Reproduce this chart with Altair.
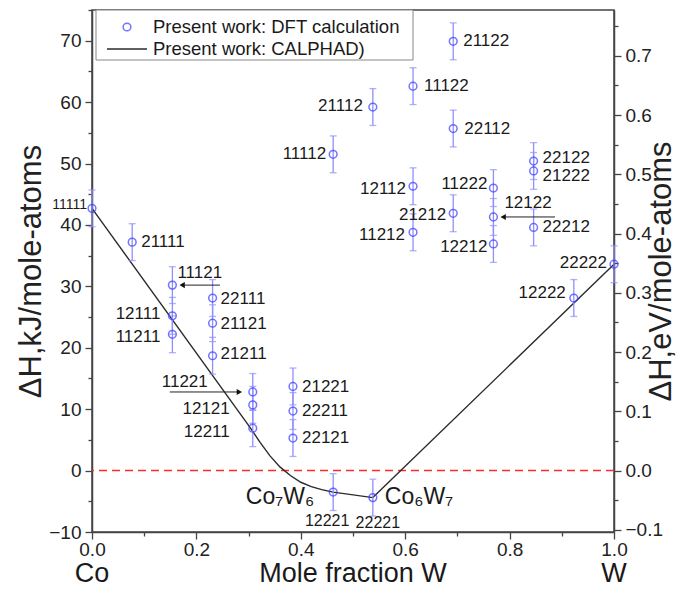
import altair as alt
import pandas as pd

# ---------------- data ----------------
config_label = ["11111", "21111", "11121", "12111", "11211", "22111", "21121", "21211",
                "11221", "12121", "12211", "21221", "22211", "22121", "12221", "22221",
                "11112", "21112", "11122", "21122", "22112", "12112", "21212", "11212",
                "11222", "12122", "12212", "22122", "21222", "22212", "12222", "22222"]
mole_fraction_w = [0.000, 0.077, 0.154, 0.154, 0.154, 0.231, 0.231, 0.231,
                   0.308, 0.308, 0.308, 0.385, 0.385, 0.385, 0.462, 0.538,
                   0.462, 0.538, 0.615, 0.692, 0.692, 0.615, 0.692, 0.615,
                   0.769, 0.769, 0.769, 0.846, 0.846, 0.846, 0.923, 1.000]
dh_dft = [42.7, 37.2, 30.2, 25.2, 22.2, 28.1, 24.0, 18.7,
          12.8, 10.7, 6.9, 13.7, 9.7, 5.3, -3.5, -4.4,
          51.5, 59.2, 62.6, 69.9, 55.7, 46.3, 41.9, 38.8,
          46.0, 41.3, 36.9, 50.4, 48.8, 39.6, 28.1, 33.6]
dh_err = [3.0, 3.0, 3.0, 3.0, 3.0, 3.0, 3.0, 3.0,
          3.0, 3.0, 3.0, 3.0, 3.0, 3.0, 3.0, 3.0,
          3.0, 3.0, 3.0, 3.0, 3.0, 3.0, 3.0, 3.0,
          3.0, 3.0, 3.0, 3.0, 3.0, 3.0, 3.0, 3.0]

calphad_x = [0.000, 0.303, 0.322, 0.341, 0.360, 0.380, 0.400, 0.420, 0.440, 0.462, 0.538, 1.000]
calphad_dh = [42.7, 7.0, 4.6, 2.4, 0.6, -0.8, -1.9, -2.6, -3.1, -3.5, -4.4, 33.6]

# arrows (tail -> head) pointing at three data points
arrow_tail_x = [0.245, 0.149, 0.887]
arrow_head_x = [0.165, 0.290, 0.780]
arrow_dh = [30.2, 12.8, 41.3]

phase_names = ["Co\u2087W\u2086", "Co\u2086W\u2087"]
phase_x = [0.462, 0.538]
phase_dh = [-3.5, -4.4]

x_ticks = [0.0, 0.1, 0.2, 0.3, 0.4, 0.5, 0.6, 0.7, 0.8, 0.9, 1.0]
y_ticks = [-10, -5, 0, 5, 10, 15, 20, 25, 30, 35, 40, 45, 50, 55, 60, 65, 70, 75]
ev_ticks = [-0.1, -0.05, 0.0, 0.05, 0.1, 0.15, 0.2, 0.25, 0.3, 0.35, 0.4, 0.45,
            0.5, 0.55, 0.6, 0.65, 0.7, 0.75]
KJ_PER_EV = 96.485

# ---------------- label placement (style) ----------------
# align, dx(px), dy(px), font size
LS = 17
label_place = {
    "11111": ("right", -5, -3, 14), "21111": ("left", 9, 0, LS),
    "11121": ("left", 5, -12, LS), "12111": ("right", -12, -2, LS),
    "11211": ("right", -12, 3, LS), "22111": ("left", 8, 1, LS),
    "21121": ("left", 8, 1, LS), "21211": ("left", 8, -2, LS),
    "11221": ("right", -45, -10, LS), "12121": ("right", -23, 4, LS),
    "12211": ("right", -23, 4, LS), "21221": ("left", 9, 1, LS),
    "22211": ("left", 9, 0, LS), "22121": ("left", 9, 0, LS),
    "12221": ("center", -6, 29, 16), "22221": ("center", 5, 25, 16),
    "11112": ("right", -7, 0, LS), "21112": ("right", -10, -1, LS),
    "11122": ("left", 11, 0, LS), "21122": ("left", 10, 0, LS),
    "22112": ("left", 11, 0, LS), "12112": ("right", -7, 3, LS),
    "21212": ("right", -7, 2, LS), "11212": ("right", -8, 3, LS),
    "11222": ("right", -6, -4, LS), "12122": ("left", 11, -14, LS),
    "12212": ("right", -6, 3, LS), "22122": ("left", 9, -3, LS),
    "21222": ("left", 9, 5, LS), "22212": ("left", 9, 0, LS),
    "12222": ("right", -8, -5, LS), "22222": ("right", -7, -1, LS),
}
phase_place = [("right", -19, 5), ("left", 12, -1)]

W, H = 522, 522
XD = [0, 1]
YD = [-10, 75]
PX_X = (XD[1] - XD[0]) / W
PX_Y = (YD[1] - YD[0]) / H
FONT = "Liberation Sans"
BLUE = "#3a3aff"
LIGHT_BLUE = "#8f8fff"
AX = "#444444"
TICK_FS = 19
TITLE_FS = 31

df = pd.DataFrame({"label": config_label, "x": mole_fraction_w, "dh": dh_dft, "err": dh_err})
df["lo"] = df["dh"] - df["err"]
df["hi"] = df["dh"] + df["err"]
df["align"] = [label_place[l][0] for l in df["label"]]
df["size"] = [label_place[l][3] for l in df["label"]]
df["lx"] = [x + label_place[l][1] * PX_X for x, l in zip(df["x"], df["label"])]
df["ly"] = [y - label_place[l][2] * PX_Y for y, l in zip(df["dh"], df["label"])]

calphad = pd.DataFrame({"x": calphad_x, "dh": calphad_dh})

adir = [1 if h > t else -1 for t, h in zip(arrow_tail_x, arrow_head_x)]
arrows = pd.DataFrame({
    "x": arrow_tail_x,
    "x2": [h - d * 4 * PX_X for h, d in zip(arrow_head_x, adir)],
    "dh": arrow_dh,
    "shape": ["triangle-right" if d > 0 else "triangle-left" for d in adir],
})

phases = pd.DataFrame({
    "name": phase_names,
    "x": [x + p[1] * PX_X for x, p in zip(phase_x, phase_place)],
    "dh": [y - p[2] * PX_Y for y, p in zip(phase_dh, phase_place)],
    "align": [p[0] for p in phase_place],
})

xscale = alt.Scale(domain=XD, nice=False, zero=False)
yscale = alt.Scale(domain=YD, nice=False, zero=False)

xaxis = alt.Axis(
    values=x_ticks, title=None, grid=False,
    labelExpr="round(datum.value*10) % 2 === 0 ? format(datum.value, '.1f') : ''",
    tickSize={"condition": {"test": "round(datum.value*10) % 2 === 0", "value": 7}, "value": 4},
    labelFontSize=TICK_FS, labelFont=FONT, labelColor="#222", labelPadding=1,
    domainColor=AX, domainWidth=1.5, tickColor=AX, tickWidth=1.3, labelFlush=False,
)
yaxis = alt.Axis(
    values=y_ticks, title="\u0394H,kJ/mole-atoms", grid=False,
    labelExpr="datum.value % 10 === 0 ? datum.label : ''",
    tickSize={"condition": {"test": "datum.value % 10 === 0", "value": 7}, "value": 4},
    labelFontSize=TICK_FS, labelFont=FONT, labelColor="#222", labelPadding=4,
    domainColor=AX, domainWidth=1.5, tickColor=AX, tickWidth=1.3, labelFlush=False,
    titleFont=FONT, titleFontSize=TITLE_FS, titleFontWeight="normal", titleColor="#222",
    titleAngle=270, titleX=-61, titleY=261, titleAlign="center", titleBaseline="middle",
)


def X(field):
    return alt.X(field, type="quantitative", scale=xscale, axis=xaxis)


def Y(field):
    return alt.Y(field, type="quantitative", scale=yscale, axis=yaxis)


one = pd.DataFrame({"a": [0]})

zero_line = alt.Chart(pd.DataFrame({"dh": [0.0]})).mark_rule(
    color="#ff2a2a", strokeDash=[8, 5], strokeWidth=1.5
).encode(y=Y("dh"))

line = alt.Chart(calphad).mark_line(color="#2b2b2b", strokeWidth=1.4).encode(
    x=X("x"), y=Y("dh"), order="x:Q"
)

ebar = alt.Chart(df).mark_rule(color=LIGHT_BLUE, strokeWidth=1.3).encode(
    x=X("x"), y=Y("lo"), y2="hi"
)
cap_lo = alt.Chart(df).mark_tick(color=LIGHT_BLUE, orient="horizontal", size=7, thickness=1.3).encode(
    x=X("x"), y=Y("lo")
)
cap_hi = alt.Chart(df).mark_tick(color=LIGHT_BLUE, orient="horizontal", size=7, thickness=1.3).encode(
    x=X("x"), y=Y("hi")
)
pts = alt.Chart(df).mark_point(shape="circle", filled=False, size=60, color=BLUE, strokeWidth=1.5).encode(
    x=X("x"), y=Y("dh")
)

label_layers = []
for al in ["left", "right", "center"]:
    for sz in sorted(set(df["size"])):
        sub = df[(df["align"] == al) & (df["size"] == sz)]
        if len(sub) == 0:
            continue
        label_layers.append(
            alt.Chart(sub).mark_text(align=al, baseline="middle", font=FONT, fontSize=sz, color="#1a1a1a").encode(
                x=X("lx"), y=Y("ly"), text="label:N"
            )
        )

phase_layers = []
for al in ["left", "right"]:
    sub = phases[phases["align"] == al]
    phase_layers.append(
        alt.Chart(sub).mark_text(align=al, baseline="middle", font=FONT, fontSize=23, color="#1a1a1a").encode(
            x=X("x"), y=Y("dh"), text="name:N"
        )
    )

arrow_lines = alt.Chart(arrows).mark_rule(color="#222", strokeWidth=1).encode(
    x=X("x"), x2="x2", y=Y("dh")
)
arrow_heads = alt.Chart(arrows).mark_point(filled=True, size=38, color="#111", opacity=1).encode(
    x=X("x2"), y=Y("dh"), shape=alt.Shape("shape:N", scale=None, legend=None)
)

ends = pd.DataFrame({"x": [0.0, 0.5, 1.0], "t": ["Co", "Mole fraction W", "W"]})
end_text = alt.Chart(ends).mark_text(baseline="alphabetic", align="center", font=FONT, fontSize=27, color="#1a1a1a").encode(
    x=X("x"), y=alt.value(572), text="t:N"
)

# legend (manual box)
leg_box = alt.Chart(one).mark_rect(fill="white", stroke="#888", strokeWidth=1).encode(
    x=alt.value(4), x2=alt.value(321), y=alt.value(0), y2=alt.value(50)
)
leg_sym = alt.Chart(one).mark_point(shape="circle", filled=False, size=60, color=BLUE, strokeWidth=1.5).encode(
    x=alt.value(35), y=alt.value(17)
)
leg_line = alt.Chart(one).mark_rule(color="#2b2b2b", strokeWidth=1.4).encode(
    x=alt.value(15), x2=alt.value(55), y=alt.value(39)
)
leg_txt1 = alt.Chart(pd.DataFrame({"t": ["Present work: DFT calculation"]})).mark_text(
    align="left", baseline="middle", font=FONT, fontSize=18.5, color="#1a1a1a"
).encode(x=alt.value(61), y=alt.value(17), text="t:N")
leg_txt2 = alt.Chart(pd.DataFrame({"t": ["Present work: CALPHAD)"]})).mark_text(
    align="left", baseline="middle", font=FONT, fontSize=18.5, color="#1a1a1a"
).encode(x=alt.value(61), y=alt.value(39), text="t:N")

main = alt.layer(
    zero_line, line, ebar, cap_lo, cap_hi, pts, *label_layers, *phase_layers,
    arrow_lines, arrow_heads, end_text, leg_box, leg_sym, leg_line, leg_txt1, leg_txt2
)

ev_df = pd.DataFrame({"x": [0.0, 1.0], "ev": [YD[0] / KJ_PER_EV, YD[1] / KJ_PER_EV]})
right = alt.Chart(ev_df).mark_point(opacity=0).encode(
    x=X("x"),
    y=alt.Y("ev:Q", scale=alt.Scale(domain=[YD[0] / KJ_PER_EV, YD[1] / KJ_PER_EV], nice=False, zero=False),
            axis=alt.Axis(
                orient="right", values=ev_ticks, title="\u0394H,eV/mole-atoms", grid=False,
                labelExpr="abs(round(datum.value*100)) % 10 === 0 ? format(datum.value, '.1f') : ''",
                tickSize={"condition": {"test": "abs(round(datum.value*100)) % 10 === 0", "value": 7}, "value": 4},
                labelFontSize=TICK_FS, labelFont=FONT, labelColor="#222", labelPadding=4,
                domainColor=AX, domainWidth=1.5, tickColor=AX, tickWidth=1.3, labelFlush=False,
                titleFont=FONT, titleFontSize=TITLE_FS, titleFontWeight="normal", titleColor="#222",
                titleAngle=270, titleX=47, titleY=261, titleAlign="center", titleBaseline="middle",
            )),
)

chart = alt.layer(main, right).resolve_scale(y="independent").properties(
    width=W, height=H,
    padding={"left": 84, "top": 2, "right": 62, "bottom": 56},
    autosize=alt.AutoSizeParams(type="none"),
).configure_view(stroke=AX, strokeWidth=1.5)

chart.save("out.html", embed_options={"renderer": "svg", "actions": False})
